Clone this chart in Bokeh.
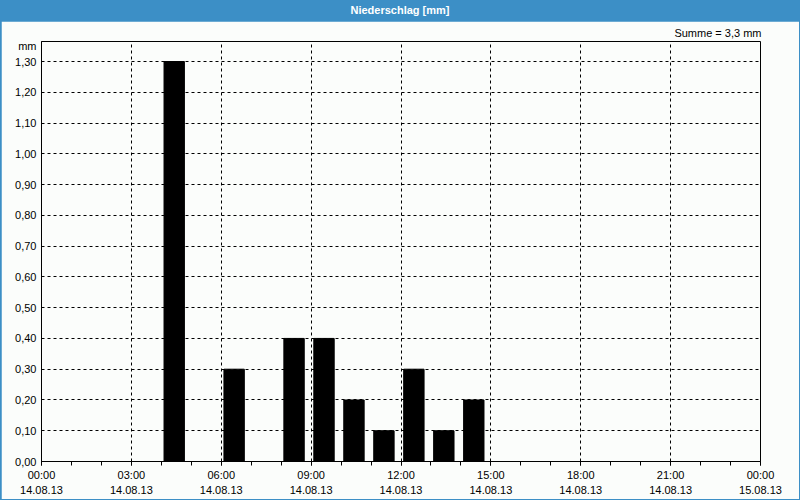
from bokeh.plotting import figure
from bokeh.models import (Range1d, FixedTicker, LinearAxis, Title, Div, ColumnDataSource)
from bokeh.layouts import column
from bokeh.embed import file_html
from bokeh.resources import INLINE

# ---- data ----
hours = [4, 6, 8, 9, 10, 11, 12, 13, 14]
values = [1.3, 0.3, 0.4, 0.4, 0.2, 0.1, 0.3, 0.1, 0.2]
x_ticks = [0, 3, 6, 9, 12, 15, 18, 21, 24]
time_labels = ["00:00", "03:00", "06:00", "09:00", "12:00", "15:00", "18:00", "21:00", "00:00"]
date_labels = ["14.08.13"] * 8 + ["15.08.13"]
y_ticks = [round(i * 0.1, 1) for i in range(14)]
title_text = "Niederschlag [mm]"
unit_text = "mm"
total = sum(values)
sum_text = "Summe = " + ("%.1f" % total).replace(".", ",") + " mm"

FONT = "Liberation Sans"
BLUE = "#3C8FC6"
BG = "#FBFDFB"
Y_TOP = 1.365

p = figure(width=798, height=478, output_backend="svg", toolbar_location=None,
           x_range=Range1d(0, 24), y_range=Range1d(0, Y_TOP),
           min_border_left=40, min_border_right=39, min_border_top=20,
           min_border_bottom=38, x_axis_location=None, y_axis_location=None)
p.margin = (0, 1, 1, 1)
p.background_fill_color = BG
p.border_fill_color = BG
p.outline_line_color = "black"
p.outline_line_width = 1

src = ColumnDataSource(dict(x=[h + 0.43 for h in hours], top=values))
p.vbar(x="x", top="top", width=0.68, source=src, fill_color="black", line_color="black")

# x axes: times and dates
xt = FixedTicker(ticks=x_ticks, minor_ticks=list(range(25)))
ax1 = LinearAxis(ticker=xt)
ax1.major_label_overrides = {t: l for t, l in zip(x_ticks, time_labels)}
ax1.major_tick_in = 0
ax1.major_tick_out = 4
ax1.minor_tick_in = 0
ax1.minor_tick_out = 4
ax1.major_label_standoff = 3
ax1.axis_line_color = "black"
ax1.major_label_text_font = FONT
ax1.major_label_text_font_size = "11px"
ax1.major_label_text_color = "#000000"
p.add_layout(ax1, "below")

ax2 = LinearAxis(ticker=FixedTicker(ticks=x_ticks, minor_ticks=[]))
ax2.major_label_overrides = {t: l for t, l in zip(x_ticks, date_labels)}
ax2.major_tick_in = 0
ax2.major_tick_out = 0
ax2.minor_tick_in = 0
ax2.minor_tick_out = 0
ax2.axis_line_color = None
ax2.major_label_standoff = 2
ax2.major_label_text_font = FONT
ax2.major_label_text_font_size = "11px"
ax2.major_label_text_color = "#000000"
p.add_layout(ax2, "below")

# y axis (unit "mm" shown as the topmost label, just under the frame top)
unit_pos = round(Y_TOP - 0.016, 3)
ay = LinearAxis(ticker=FixedTicker(ticks=y_ticks + [unit_pos], minor_ticks=[]))
overrides = {t: ("%.2f" % t).replace(".", ",") for t in y_ticks}
overrides[unit_pos] = unit_text
ay.major_label_overrides = overrides
ay.major_tick_in = 0
ay.major_tick_out = 0
ay.minor_tick_in = 0
ay.minor_tick_out = 0
ay.major_label_standoff = 5
ay.axis_line_color = "black"
ay.major_label_text_font = FONT
ay.major_label_text_font_size = "11px"
ay.major_label_text_color = "#000000"
p.add_layout(ay, "left")

p.xgrid.ticker = FixedTicker(ticks=x_ticks)
p.ygrid.ticker = FixedTicker(ticks=y_ticks)
for g in (p.xgrid, p.ygrid):
    g.grid_line_color = "black"
    g.grid_line_dash = "3 3"
    g.grid_line_width = 1
    g.level = "underlay"

p.add_layout(Title(text=sum_text, align="right", text_font=FONT, text_font_size="11px",
                   text_font_style="normal", text_color="black", standoff=5, offset=-1), "above")

head = Div(text='<div style="text-align:center;font-family:\'Liberation Sans\';font-weight:bold;'
                'font-size:11px;color:white;line-height:21px;width:800px;">' + title_text + '</div>',
           width=800, height=21, margin=(0, 0, 0, 0),
           styles={"background-color": BLUE})

layout = column(head, p, styles={"background-color": BLUE}, spacing=0)

open("out.html", "w").write(file_html(layout, INLINE))
